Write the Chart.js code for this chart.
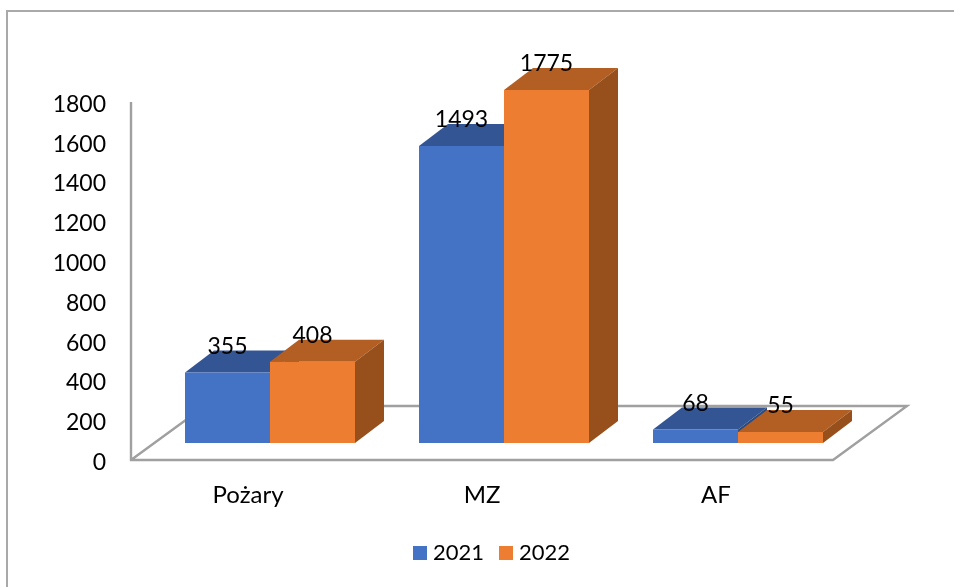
<!DOCTYPE html>
<html>
<head>
<meta charset="utf-8">
<style>
html,body{margin:0;padding:0;background:#fff;}
#wrap{position:relative;width:954px;height:587px;}
canvas{display:block;}
</style>
<script src="https://cdn.jsdelivr.net/npm/chart.js@4/dist/chart.umd.min.js"></script>
</head>
<body>
<div id="wrap"><canvas id="c" width="954" height="587"></canvas></div>
<script>
const categories = ['Pożary', 'MZ', 'AF'];
const seriesNames = ['2021', '2022'];
const values2021 = [355, 1493, 68];
const values2022 = [408, 1775, 55];
const axisMax = 1800;
const axisStep = 200;

const FONT = 'Lato, "Open Sans", sans-serif';
const FS = 23;
const LEGEND_FS = 22;
const CAT_FS = 24;
const faces = [
  {front:'#4472C4', top:'#335593', side:'#2B4A80'},
  {front:'#ED7D31', top:'#B35E22', side:'#974F1C'}
];
// oblique projection of the 3-D box
const LIFT = {x:22, y:-17};     // bars stand this far back on the floor
const DEPTH = {x:29, y:-22};    // depth of each bar
const FLOOR = {x:74, y:-54};    // depth of the floor

// legend swatches: the swatch is wider than the slot the legend reserves for it
const swatches = faces.map(f => {
  const s = document.createElement('canvas');
  s.width = 14; s.height = 14;
  const g = s.getContext('2d');
  g.fillStyle = f.front; g.fillRect(0, 0, 14, 14);
  return s;
});

const projection = {
  id:'projection',
  beforeDraw(chart){
    const {ctx, chartArea:a} = chart;
    ctx.save();
    // outer frame
    ctx.strokeStyle = '#A9A9A9';
    ctx.lineWidth = 2;
    ctx.beginPath();
    ctx.moveTo(7, 587); ctx.lineTo(7, 11); ctx.lineTo(954, 11);
    ctx.stroke();
    // wall and floor
    ctx.strokeStyle = '#A0A0A0';
    ctx.lineWidth = 2.4;
    ctx.beginPath();
    ctx.moveTo(a.left, a.top); ctx.lineTo(a.left, a.bottom); ctx.lineTo(a.right, a.bottom);
    ctx.lineTo(a.right + FLOOR.x, a.bottom + FLOOR.y);
    ctx.lineTo(a.left + FLOOR.x, a.bottom + FLOOR.y);
    ctx.lineTo(a.left, a.bottom);
    ctx.stroke();
    ctx.restore();
  },
  beforeDatasetsDraw(chart){
    const {ctx} = chart;
    ctx.save();
    ctx.translate(LIFT.x, LIFT.y);
    chart.data.datasets.forEach((ds, i) => {
      const f = faces[i];
      chart.getDatasetMeta(i).data.forEach(bar => {
        const {x, y, base, width} = bar.getProps(['x','y','base','width']);
        const l = x - width/2, r = x + width/2;
        ctx.fillStyle = f.top;
        ctx.beginPath();
        ctx.moveTo(l, y); ctx.lineTo(r, y);
        ctx.lineTo(r + DEPTH.x, y + DEPTH.y); ctx.lineTo(l + DEPTH.x, y + DEPTH.y);
        ctx.closePath(); ctx.fill();
        ctx.fillStyle = f.side;
        ctx.beginPath();
        ctx.moveTo(r, y); ctx.lineTo(r + DEPTH.x, y + DEPTH.y);
        ctx.lineTo(r + DEPTH.x, base + DEPTH.y); ctx.lineTo(r, base);
        ctx.closePath(); ctx.fill();
      });
    });
  },
  afterDatasetsDraw(chart){
    const {ctx} = chart;
    ctx.fillStyle = '#000';
    ctx.font = FS + 'px ' + FONT;
    ctx.textAlign = 'center';
    ctx.textBaseline = 'middle';
    chart.data.datasets.forEach((ds, i) => {
      chart.getDatasetMeta(i).data.forEach((bar, j) => {
        ctx.fillText(String(ds.data[j]), bar.x, bar.y - 26);
      });
    });
    ctx.restore();
  },
  afterLayout(chart){
    // legend sits centred under the whole box, floor included
    const lg = chart.legend;
    const shift = 494 - (lg.left + lg.right)/2;
    lg.left += shift; lg.right += shift;
    lg.top = 521.5; lg.bottom = lg.top + lg.height;
  }
};

new Chart(document.getElementById('c'), {
  type:'bar',
  data:{
    labels:categories,
    datasets:[
      {label:seriesNames[0], data:values2021, backgroundColor:faces[0].front, borderWidth:0, clip:false},
      {label:seriesNames[1], data:values2022, backgroundColor:faces[1].front, borderWidth:0, clip:false}
    ]
  },
  options:{
    responsive:false,
    animation:false,
    layout:{padding:{left:0, right:121, top:102, bottom:0}},
    datasets:{bar:{categoryPercentage:170/234, barPercentage:1}},
    scales:{
      x:{
        grid:{display:false, drawTicks:false},
        border:{display:false},
        ticks:{color:'#000', font:{family:FONT, size:CAT_FS}, padding:21, maxRotation:0},
        afterFit(s){ s.height = 75; }
      },
      y:{
        min:0, max:axisMax,
        grid:{display:false, drawTicks:false},
        border:{display:false},
        ticks:{stepSize:axisStep, color:'#000', font:{family:FONT, size:FS}, padding:25,
               labelOffset:2.5, callback:v => String(v)},
        afterFit(s){ s.width = 131; }
      }
    },
    plugins:{
      legend:{
        position:'bottom',
        labels:{
          color:'#000', font:{family:FONT, size:LEGEND_FS},
          usePointStyle:true, pointStyleWidth:4, boxHeight:14, padding:20,
          generateLabels:c => Chart.defaults.plugins.legend.labels.generateLabels(c)
            .map((l, i) => ({...l, pointStyle:swatches[i]}))
        }
      },
      tooltip:{enabled:false}
    }
  },
  plugins:[projection]
});
</script>
</body>
</html>
